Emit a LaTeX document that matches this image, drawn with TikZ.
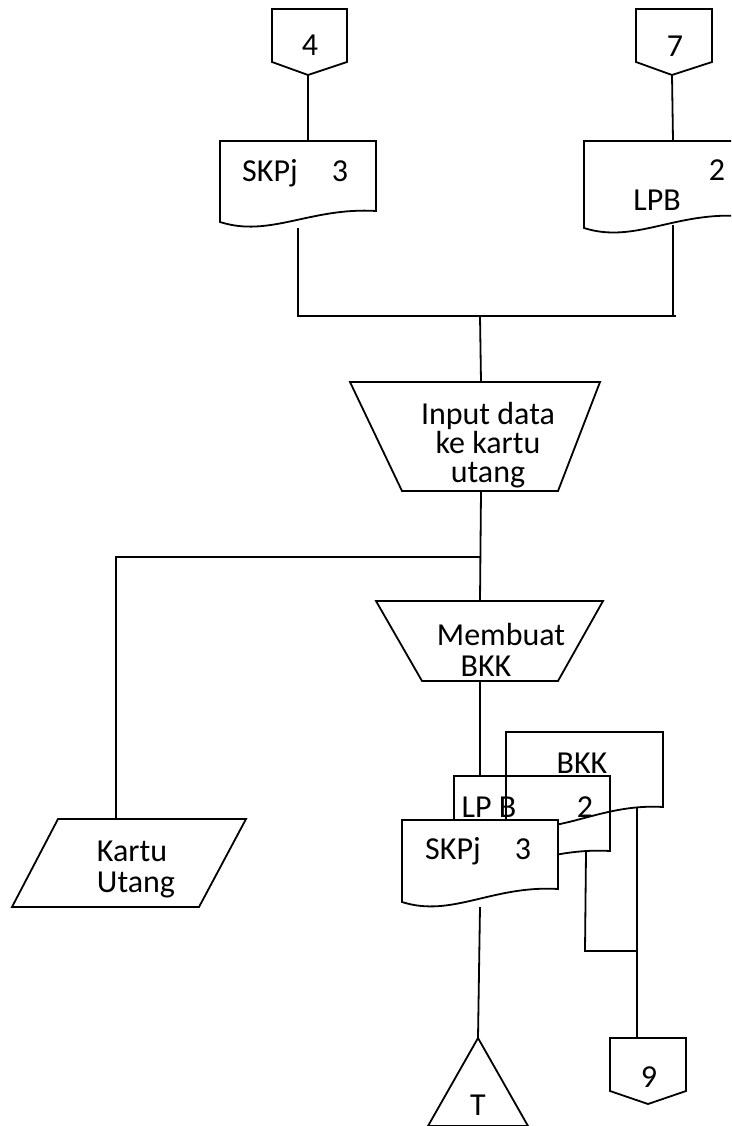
\documentclass[tikz,border=0pt]{standalone}
\usepackage{fontspec}
\setmainfont{Carlito}
% Document symbol: left, top, right, bottom-left y, bottom-right y (wavy bottom edge)
\newcommand{\docshape}[6]{%
  \draw[#1] (#2,#3) -- (#4,#3) -- (#4,#6)
    .. controls ({#2+0.58*(#4-#2)},{#6-4}) and ({#2+0.32*(#4-#2)},{#5+16}) .. (#2,#5) -- cycle;}
\begin{document}
\begin{tikzpicture}[x=1pt,y=-1pt,
  outline/.style={line width=1.8pt, line join=miter},
  wire/.style={line width=1.8pt},
  lbl/.style={inner sep=0pt, anchor=base, font=\fontsize{32}{29}\selectfont}]
\useasboundingbox (0,0) rectangle (731,1126);
\clip (0,0) rectangle (731,1126);

% off-page connectors at the top
\draw[outline] (272,9) -- (347,9) -- (347,62) -- (308,75) -- (272,62) -- cycle;
\draw[outline] (636,9) -- (712,9) -- (712,62) -- (672,75) -- (636,62) -- cycle;
\node[lbl] (c4) at (310,56) {4};
\node[lbl] (c7) at (675,57) {7};
\coordinate (c4p) at (308,75);
\coordinate (c7p) at (672,75);

% input documents
\docshape{outline}{220}{141}{376}{222}{211}
\node[lbl] (skpjA) at (270,182) {SKPj};
\node[lbl] (skpjAn) at (340,182) {3};
\coordinate (skpjAt) at (308,141);
\coordinate (skpjAb) at (298,228);

\docshape{outline}{584}{141}{740}{228}{216}
\node[lbl] (lpbAn) at (717,180) {2};
\node[lbl] (lpbA) at (657,210) {LPB};
\coordinate (lpbAt) at (673,141);
\coordinate (lpbAb) at (673,225);

% merge of the two documents
\coordinate (jl) at (298,316);
\coordinate (jr) at (676,316);
\coordinate (jm) at (480,316);
\coordinate (jrr) at (673,316);

% manual operation: input data (base anchor sits on the last line)
\draw[outline] (350,382) -- (600,382) -- (558,491) -- (402,491) -- cycle;
\node[lbl, align=center] (inp) at (488,482) {Input data\\ke kartu\\utang};
\coordinate (int) at (481,382);
\coordinate (inb) at (481,491);

% branch to the ledger card
\coordinate (br) at (480,557);
\coordinate (brl) at (116,557);
\draw[outline] (58,819) -- (246,819) -- (199,907) -- (12,907) -- cycle;
\node[lbl] (kuA) at (132,861) {Kartu};
\node[lbl] (kuB) at (136,892) {Utang};
\coordinate (kut) at (116,819);

% manual operation: make BKK
\draw[outline] (376,601) -- (603,601) -- (558,681) -- (422,681) -- cycle;
\node[lbl] (mbA) at (501,645) {Membuat};
\node[lbl] (mbB) at (486,676) {BKK};
\coordinate (mbt) at (480,601);
\coordinate (mbb) at (480,681);

% output document stack
\docshape{outline}{506}{732}{663}{823}{807}
\node[lbl] (bkk) at (582,773) {BKK};
\docshape{outline}{454}{776}{610}{862}{851}
\node[lbl] (lpbB) at (489,817) {LP B};
\node[lbl] (lpbBn) at (585,817) {2};
\docshape{outline,fill=white}{402}{820}{558}{902}{889}
\node[lbl] (skpjB) at (453,859) {SKPj};
\node[lbl] (skpjBn) at (523,859) {3};
\coordinate (lpbBt) at (480,776);
\coordinate (skpjBb) at (480,907);
\coordinate (lpbBb) at (586,852);
\coordinate (bkkb) at (637,807);
\coordinate (lk) at (585,951);
\coordinate (rk) at (637,951);

% file and off-page connector at the bottom
\draw[outline] (478,1038) -- (528,1126) -- (428,1126) -- cycle;
\node[lbl] (tfile) at (478,1115) {T};
\coordinate (tt) at (478,1038);
\draw[outline] (610,1038) -- (686,1038) -- (686,1091) -- (648,1104) -- (610,1091) -- cycle;
\node[lbl] (c9) at (649,1087) {9};
\coordinate (c9t) at (637,1038);

% connectors
\draw[wire] (c4p) -- (skpjAt);
\draw[wire] (c7p) -- (lpbAt);
\draw[wire] (skpjAb) -- (jl) -- (jr);
\draw[wire] (lpbAb) -- (jrr);
\draw[wire] (jm) -- (int);
\draw[wire] (inb) -- (mbt);
\draw[wire] (br) -- (brl) -- (kut);
\draw[wire] (mbb) -- (lpbBt);
\draw[wire] (skpjBb) -- (tt);
\draw[wire] (lpbBb) -- (lk) -- (rk);
\draw[wire] (bkkb) -- (c9t);
\end{tikzpicture}
\end{document}
